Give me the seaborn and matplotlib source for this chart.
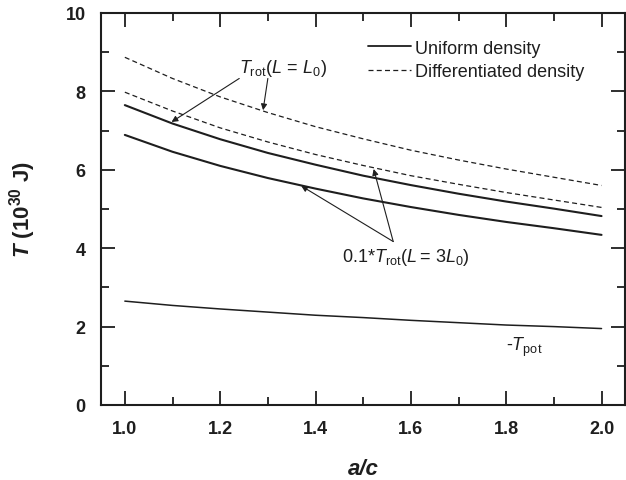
import numpy as np
import pandas as pd
import matplotlib
matplotlib.use("Agg")
import matplotlib.pyplot as plt
from matplotlib.lines import Line2D
from matplotlib.ticker import MultipleLocator
import seaborn as sns

# a/c ratio
ac = [1.0, 1.1, 1.2, 1.3, 1.4, 1.5, 1.6, 1.7, 1.8, 1.9, 2.0]

# values, in 10^30 J
uniform_L0 = [7.65, 7.18, 6.78, 6.43, 6.13, 5.85, 5.61, 5.39, 5.19, 5.01, 4.82]
uniform_3L0 = [6.89, 6.46, 6.10, 5.79, 5.52, 5.27, 5.05, 4.85, 4.67, 4.51, 4.34]
diff_L0 = [8.87, 8.33, 7.86, 7.46, 7.10, 6.79, 6.50, 6.25, 6.02, 5.81, 5.60]
diff_3L0 = [7.98, 7.50, 7.07, 6.71, 6.39, 6.11, 5.85, 5.63, 5.42, 5.23, 5.04]
t_pot = [2.65, 2.54, 2.45, 2.37, 2.29, 2.23, 2.16, 2.10, 2.04, 2.00, 1.95]

sns.set_style("ticks")
plt.rcParams['font.family'] = ['Liberation Sans', 'DejaVu Sans']
plt.rcParams['mathtext.fontset'] = 'custom'
plt.rcParams['mathtext.rm'] = 'Liberation Sans'
plt.rcParams['mathtext.it'] = 'Liberation Sans:italic'
plt.rcParams['mathtext.bf'] = 'Liberation Sans:bold'
plt.rcParams['mathtext.bfit'] = 'Liberation Sans:bold:italic'

ink = '#1e1e1e'

fig = plt.figure(figsize=(6.26, 4.81), dpi=100)
ax = fig.add_axes([101 / 626, 75 / 481, 1 - 101 / 626 - 0.001, (406 - 14) / 481])

df = pd.DataFrame({'ac': ac, 'uL0': uniform_L0, 'u3L0': uniform_3L0,
                   'dL0': diff_L0, 'd3L0': diff_3L0, 'pot': t_pot})

sns.lineplot(data=df, x='ac', y='uL0', ax=ax, color=ink, lw=1.5)
sns.lineplot(data=df, x='ac', y='u3L0', ax=ax, color=ink, lw=1.5)
sns.lineplot(data=df, x='ac', y='pot', ax=ax, color=ink, lw=1.1)
sns.lineplot(data=df, x='ac', y='dL0', ax=ax, color=ink, lw=0.9)
sns.lineplot(data=df, x='ac', y='d3L0', ax=ax, color=ink, lw=0.9)
for ln in ax.lines[3:5]:
    ln.set_dashes((4, 2.6))

ax.set_xlim(0.95, 2.05)
ax.set_ylim(0, 10)
ax.xaxis.set_major_locator(MultipleLocator(0.2))
ax.xaxis.set_minor_locator(MultipleLocator(0.1))
ax.yaxis.set_major_locator(MultipleLocator(2))
ax.yaxis.set_minor_locator(MultipleLocator(1))
ax.set_xticks([1.0, 1.2, 1.4, 1.6, 1.8, 2.0])
ax.set_xticklabels(['1.0', '1.2', '1.4', '1.6', '1.8', '2.0'])

ax.tick_params(which='both', direction='in', top=True, right=True, width=1.3, color=ink)
ax.tick_params(which='major', length=10)
ax.tick_params(which='minor', length=5.5)
ax.tick_params(axis='x', which='major', pad=11, labelsize=13)
ax.tick_params(axis='y', which='major', pad=11, labelsize=13)
for lab in ax.get_xticklabels() + ax.get_yticklabels():
    lab.set_fontweight('bold')
    lab.set_color(ink)
for sp in ax.spines.values():
    sp.set_linewidth(1.5)
    sp.set_color(ink)

ax.set_xlabel('a/c', fontsize=16, fontweight='bold', fontstyle='italic', color=ink, labelpad=15)
ax.set_ylabel(r'$\mathbfit{T}$ $\mathbf{(10^{30}\ J)}$', fontsize=16, color=ink, labelpad=20)

handles = [Line2D([], [], color=ink, lw=1.3, label='Uniform density'),
           Line2D([], [], color=ink, lw=0.9, ls=(0, (4, 2.6)), label='Differentiated density')]
ax.legend(handles=handles, loc='upper left', bbox_to_anchor=(0.509, 0.932), frameon=False,
          fontsize=13, handlelength=2.4, handletextpad=0.2, labelspacing=0.35,
          borderpad=0, borderaxespad=0, labelcolor=ink)

ax.text(1.24, 8.62, r'$T_{\mathrm{rot}}(L\,=\,L_{0})$', fontsize=13, color=ink,
        va='center', ha='left')
arrow = dict(arrowstyle='-|>', color=ink, lw=0.8, mutation_scale=9, shrinkA=0, shrinkB=0)
ax.annotate('', xy=(1.098, 7.22), xytext=(1.24, 8.33), arrowprops=arrow)
ax.annotate('', xy=(1.29, 7.52), xytext=(1.30, 8.33), arrowprops=arrow)

ax.text(1.455, 3.80, r'$0.1{*}T_{\mathrm{rot}}(L{=}\,3L_{0})$', fontsize=13, color=ink,
        va='center', ha='left')
ax.annotate('', xy=(1.370, 5.59), xytext=(1.563, 4.17), arrowprops=arrow)
ax.annotate('', xy=(1.522, 6.02), xytext=(1.563, 4.17), arrowprops=arrow)

ax.text(1.80, 1.50, r'$\text{-}T_{\mathrm{pot}}$', fontsize=13, color=ink,
        va='center', ha='left')

fig.savefig('out.png', dpi=100)
